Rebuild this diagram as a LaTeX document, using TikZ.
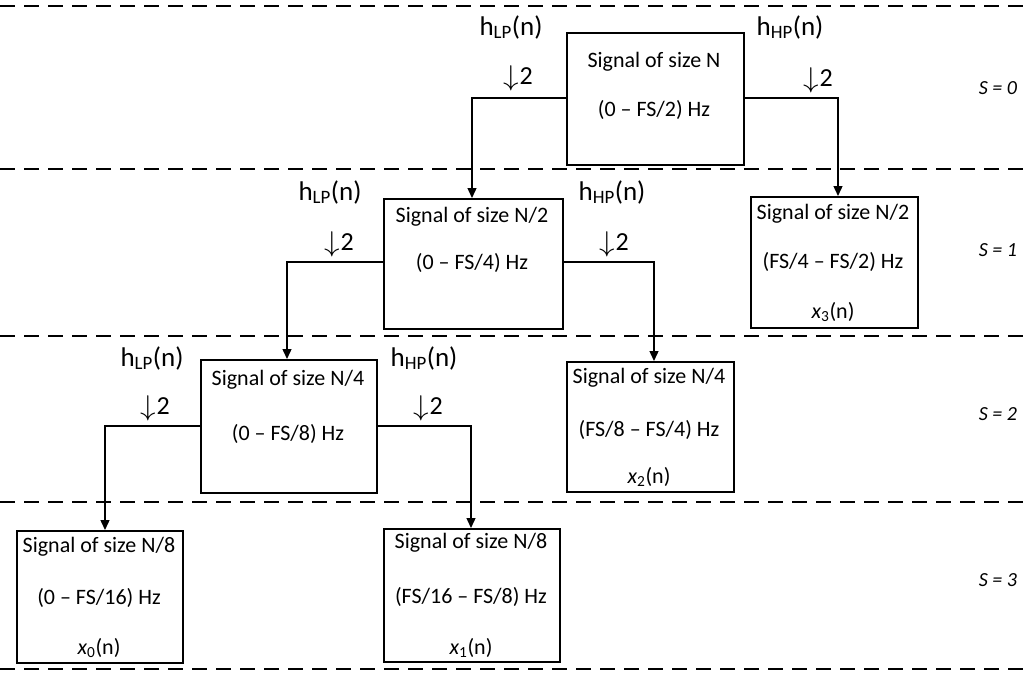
\documentclass[tikz,border=0pt]{standalone}
\usepackage{fontspec}
\setmainfont{Carlito}
\usetikzlibrary{arrows.meta}
\tikzset{
  sigbox/.style={draw, line width=1.6pt},
  sep/.style={draw, line width=1.4pt, dash pattern=on 15pt off 9pt},
  conn/.style={draw, line width=1.4pt, -{Triangle[length=10pt,width=9pt]}},
  btxt/.style={font=\fontsize{22}{26}\selectfont, inner sep=0pt},
  flt/.style={font=\fontsize{27}{30}\selectfont, inner sep=0pt},
  dwn/.style={font=\fontsize{26}{28}\selectfont, inner sep=0pt},
  lvl/.style={font=\fontsize{20}{22}\selectfont\itshape, inner sep=0pt},
}
\newcommand{\hlp}{h\textsubscript{LP}(n)}
\newcommand{\hhp}{h\textsubscript{HP}(n)}
\newcommand{\dtwo}{\raisebox{-1pt}{\scalebox{1.25}[1.15]{$\downarrow$}}\kern1pt 2}
\begin{document}
\begin{tikzpicture}[x=1pt,y=-1pt]
\useasboundingbox (0,0) rectangle (1029,675);
% separators
\foreach \yy/\nm in {6/s0,169/s1,336/s2,502/s3,669/s4}{
  \coordinate (\nm a) at (0,\yy); \coordinate (\nm b) at (1029,\yy);
  \draw[sep] (\nm a) -- (\nm b);
}
% level labels
\node[lvl] (L0) at (998,88) {S = 0};
\node[lvl] (L1) at (998,250) {S = 1};
\node[lvl] (L2) at (998,414) {S = 2};
\node[lvl] (L3) at (998,580) {S = 3};
% boxes
\node[sigbox, minimum width=177pt, minimum height=132pt, anchor=north west, inner sep=0pt] (b0) at (566,32) {};
\node[sigbox, minimum width=179pt, minimum height=130pt, anchor=north west, inner sep=0pt] (b1l) at (383,198) {};
\node[sigbox, minimum width=167pt, minimum height=131pt, anchor=north west, inner sep=0pt] (b1r) at (750,196) {};
\node[sigbox, minimum width=176pt, minimum height=133pt, anchor=north west, inner sep=0pt] (b2l) at (200,359) {};
\node[sigbox, minimum width=167pt, minimum height=130pt, anchor=north west, inner sep=0pt] (b2r) at (566,361) {};
\node[sigbox, minimum width=166pt, minimum height=132pt, anchor=north west, inner sep=0pt] (b3l) at (16,530) {};
\node[sigbox, minimum width=176pt, minimum height=133pt, anchor=north west, inner sep=0pt] (b3r) at (383,528) {};
% box texts
\node[btxt] (t0a) at (654,62) {Signal of size N};
\node[btxt] (t0b) at (654,110) {(0 – FS/2) Hz};
\node[btxt] (t1la) at (472,217) {Signal of size N/2};
\node[btxt] (t1lb) at (472,263) {(0 – FS/4) Hz};
\node[btxt] (t1ra) at (833,214) {Signal of size N/2};
\node[btxt] (t1rb) at (833,262) {(FS/4 – FS/2) Hz};
\node[btxt] (t1rc) at (833,312) {\textit{x}\textsubscript{3}(n)};
\node[btxt] (t2la) at (288,380) {Signal of size N/4};
\node[btxt] (t2lb) at (288,434) {(0 – FS/8) Hz};
\node[btxt] (t2ra) at (649,378) {Signal of size N/4};
\node[btxt] (t2rb) at (649,430) {(FS/8 – FS/4) Hz};
\node[btxt] (t2rc) at (649,477) {\textit{x}\textsubscript{2}(n)};
\node[btxt] (t3la) at (99,547) {Signal of size N/8};
\node[btxt] (t3lb) at (99,598) {(0 – FS/16) Hz};
\node[btxt] (t3lc) at (99,648) {\textit{x}\textsubscript{0}(n)};
\node[btxt] (t3ra) at (471,543) {Signal of size N/8};
\node[btxt] (t3rb) at (471,597) {(FS/16 – FS/8) Hz};
\node[btxt] (t3rc) at (471,648) {\textit{x}\textsubscript{1}(n)};
% filter labels
\node[flt] (f0l) at (511,27) {\hlp};
\node[dwn] (d0l) at (518,78) {\dtwo};
\node[flt] (f0h) at (790,27) {\hhp};
\node[dwn] (d0h) at (818,80) {\dtwo};
\node[flt] (f1l) at (330,192) {\hlp};
\node[dwn] (d1l) at (339,244) {\dtwo};
\node[flt] (f1h) at (612,192) {\hhp};
\node[dwn] (d1h) at (614,244) {\dtwo};
\node[flt] (f2l) at (152,358) {\hlp};
\node[dwn] (d2l) at (155,408) {\dtwo};
\node[flt] (f2h) at (424,358) {\hhp};
\node[dwn] (d2h) at (428,408) {\dtwo};
% connectors
\coordinate (c0l) at (472,98); \coordinate (c0h) at (838,98);
\coordinate (c1l) at (287,262); \coordinate (c1h) at (654,262);
\coordinate (c2l) at (105,426); \coordinate (c2h) at (471,426);
\draw[conn] (b0.west |- c0l) -- (c0l) -- (c0l |- b1l.north);
\draw[conn] (b0.east |- c0h) -- (c0h) -- (c0h |- b1r.north);
\draw[conn] (b1l.west |- c1l) -- (c1l) -- (c1l |- b2l.north);
\draw[conn] (b1l.east |- c1h) -- (c1h) -- (c1h |- b2r.north);
\draw[conn] (b2l.west |- c2l) -- (c2l) -- (c2l |- b3l.north);
\draw[conn] (b2l.east |- c2h) -- (c2h) -- (c2h |- b3r.north);
\end{tikzpicture}
\end{document}
